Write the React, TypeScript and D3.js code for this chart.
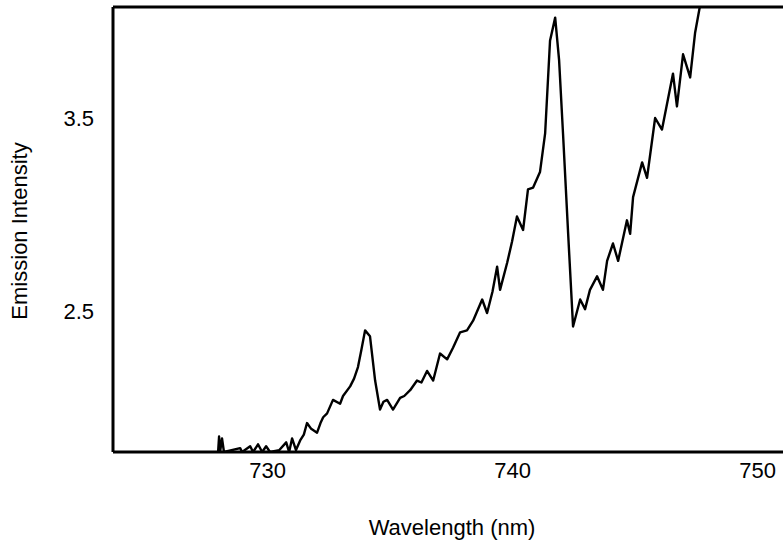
import React, { useRef, useEffect } from "react";
import * as d3 from "d3";

// emission spectrum
const wavelength = [
  728.0, 728.04, 728.08, 728.16, 728.24, 728.9, 728.98, 729.31, 729.43, 729.63, 729.8, 729.96, 730.12,
  730.5, 730.78, 730.9, 731.02, 731.18, 731.35, 731.5, 731.63, 731.8, 732.04, 732.18, 732.29, 732.45,
  732.69, 732.98, 733.1, 733.39, 733.55, 733.71, 733.85, 734.0, 734.2, 734.41, 734.61, 734.75, 734.9,
  735.14, 735.43, 735.6, 735.84, 736.12, 736.3, 736.53, 736.78, 737.06, 737.35, 737.59, 737.88, 738.16,
  738.41, 738.78, 738.98, 739.2, 739.39, 739.51, 739.8, 740.0, 740.2, 740.45, 740.65, 740.86, 741.14,
  741.35, 741.55, 741.76, 741.92, 742.08, 742.29, 742.49, 742.78, 742.98, 743.18, 743.47, 743.71, 743.88,
  744.12, 744.33, 744.69, 744.82, 744.94, 745.31, 745.51, 745.84, 746.12, 746.57, 746.73, 746.98, 747.27,
  747.47, 747.67, 747.8,
];
const intensity = [
  1.77, 1.85, 1.77, 1.84, 1.77, 1.79, 1.77, 1.8, 1.77, 1.81, 1.77, 1.8, 1.77,
  1.78, 1.82, 1.77, 1.84, 1.78, 1.83, 1.86, 1.92, 1.89, 1.87, 1.92, 1.95, 1.97,
  2.04, 2.02, 2.06, 2.11, 2.15, 2.21, 2.3, 2.4, 2.37, 2.14, 1.99, 2.03, 2.04,
  1.99, 2.05, 2.06, 2.09, 2.14, 2.13, 2.19, 2.14, 2.28, 2.25, 2.31, 2.39, 2.4,
  2.45, 2.56, 2.49, 2.6, 2.73, 2.61, 2.75, 2.86, 2.99, 2.92, 3.13, 3.14, 3.22,
  3.42, 3.9, 4.02, 3.8, 3.42, 2.9, 2.42, 2.56, 2.51, 2.61, 2.68, 2.61, 2.76,
  2.85, 2.76, 2.97, 2.9, 3.09, 3.27, 3.19, 3.5, 3.44, 3.73, 3.56, 3.83, 3.71,
  3.94, 4.08, 4.11,
];
const xTicks = [730, 740, 750];
const yTicks = [2.5, 3.5];

const W = 783;
const H = 543;
const margin = { top: 7, right: 0, bottom: 91, left: 113 };
const FONT = "Liberation Sans, Arial, sans-serif";

const App = () => {
  const svgRef = useRef(null);

  useEffect(() => {
    const svg = d3.select(svgRef.current);
    svg.selectAll("*").remove();

    const x = d3.scaleLinear().domain([723.71, 751.06]).range([margin.left, W - margin.right]);
    const y = d3.scaleLinear().domain([1.77, 4.075]).range([H - margin.bottom, margin.top]);

    svg.append("rect").attr("width", W).attr("height", H).attr("fill", "#fff");

    svg
      .append("clipPath")
      .attr("id", "plotclip")
      .append("rect")
      .attr("x", margin.left)
      .attr("y", margin.top)
      .attr("width", W - margin.left - margin.right)
      .attr("height", H - margin.top - margin.bottom);

    const pts = wavelength.map((w, i) => [w, intensity[i]]);
    const line = d3
      .line()
      .x((d) => x(d[0]))
      .y((d) => y(d[1]));

    svg
      .append("path")
      .datum(pts)
      .attr("clip-path", "url(#plotclip)")
      .attr("d", line)
      .attr("fill", "none")
      .attr("stroke", "#000")
      .attr("stroke-width", 2.4)
      .attr("stroke-linejoin", "round");

    // frame: left, top, bottom (no right edge in the scan)
    const frame = svg.append("g").attr("stroke", "#000").attr("stroke-width", 3);
    frame.append("line").attr("x1", margin.left).attr("x2", margin.left).attr("y1", margin.top).attr("y2", H - margin.bottom);
    frame.append("line").attr("x1", margin.left).attr("x2", W).attr("y1", margin.top).attr("y2", margin.top);
    frame.append("line").attr("x1", margin.left).attr("x2", W).attr("y1", H - margin.bottom).attr("y2", H - margin.bottom);

    const xAxis = svg
      .append("g")
      .attr("transform", "translate(0," + (H - margin.bottom) + ")")
      .call(d3.axisBottom(x).tickValues(xTicks).tickSize(0).tickPadding(10).tickFormat(d3.format("d")));
    xAxis.select(".domain").remove();
    xAxis.selectAll("text").attr("font-family", FONT).attr("font-size", 22).attr("fill", "#000");

    const yAxis = svg
      .append("g")
      .attr("transform", "translate(" + (margin.left - 19) + ",0)")
      .call(d3.axisLeft(y).tickValues(yTicks).tickSize(0).tickPadding(0).tickFormat(d3.format(".1f")));
    yAxis.select(".domain").remove();
    yAxis.selectAll("text").attr("font-family", FONT).attr("font-size", 22).attr("fill", "#000");

    svg
      .append("text")
      .attr("x", 452)
      .attr("y", 535)
      .attr("text-anchor", "middle")
      .attr("font-family", FONT)
      .attr("font-size", 22)
      .text("Wavelength (nm)");

    svg
      .append("text")
      .attr("transform", "translate(27,231) rotate(-90)")
      .attr("text-anchor", "middle")
      .attr("font-family", FONT)
      .attr("font-size", 22)
      .text("Emission Intensity");
  }, []);

  return (
    <svg
      ref={svgRef}
      width={W}
      height={H}
      style={{ position: "absolute", left: 0, top: 0 }}
    ></svg>
  );
};

export default App;
